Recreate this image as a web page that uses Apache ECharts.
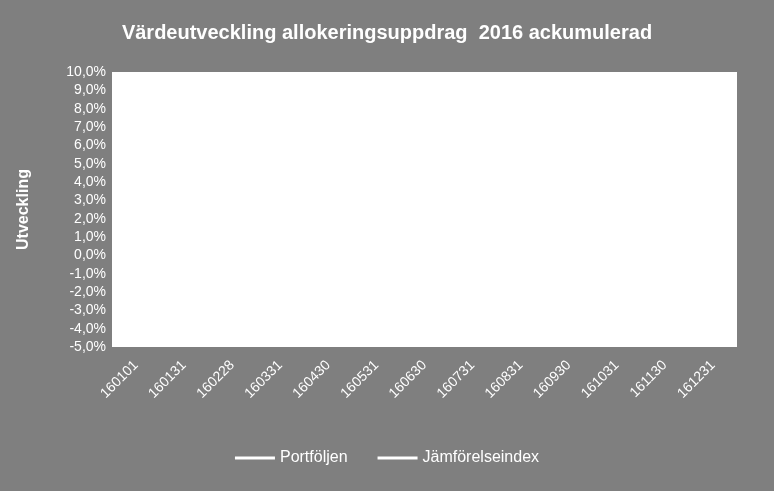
<!DOCTYPE html>
<html>
<head>
<meta charset="utf-8">
<script src="https://cdn.jsdelivr.net/npm/echarts@6/dist/echarts.min.js"></script>
<style>
html, body { margin: 0; padding: 0; background: #7f7f7f; }
#chart { width: 774px; height: 491px; }
</style>
</head>
<body>
<div id="chart"></div>
<script>
const datum = ['160101', '160131', '160228', '160331', '160430', '160531', '160630',
    '160731', '160831', '160930', '161031', '161130', '161231'];
const portfoljen = [0.0, 0.0, 0.0, 0.0, 0.0, 0.0, 0.0, 0.0, 0.0, 0.0, 0.0, 0.0, 0.0];
const jamforelseindex = [0.0, 0.0, 0.0, 0.0, 0.0, 0.0, 0.0, 0.0, 0.0, 0.0, 0.0, 0.0, 0.0];

const chart = echarts.init(document.getElementById('chart'));
const font = 'Liberation Sans';

const option = {
    backgroundColor: '#7f7f7f',
    textStyle: { fontFamily: font },
    title: {
        text: 'Värdeutveckling allokeringsuppdrag  2016 ackumulerad',
        left: 'center', top: 18,
        textStyle: { color: '#fff', fontSize: 20, fontWeight: 'bold', fontFamily: font }
    },
    legend: {
        bottom: 20, left: 'center', itemWidth: 40, itemGap: 30,
        icon: 'path://M0,0L40,0L40,3L0,3Z',
        textStyle: { color: '#fff', fontSize: 16 },
        data: ['Portföljen', 'Jämförelseindex']
    },
    grid: { left: 112, right: 37, top: 72, bottom: 144, show: true, backgroundColor: '#fff', borderWidth: 0 },
    xAxis: {
        type: 'category', data: datum, boundaryGap: true,
        axisLine: { show: false }, axisTick: { show: false },
        axisLabel: { color: '#fff', fontSize: 14, rotate: 45, margin: 16, interval: 0 }
    },
    yAxis: {
        type: 'value', min: -5, max: 10, interval: 1,
        name: 'Utveckling', nameLocation: 'middle', nameGap: 80, nameRotate: 90,
        nameTextStyle: { color: '#fff', fontSize: 16, fontWeight: 'bold' },
        axisLine: { show: false }, axisTick: { show: false }, splitLine: { show: false },
        axisLabel: { color: '#fff', fontSize: 14, margin: 6,
            formatter: v => v.toFixed(1).replace('.', ',') + '%' }
    },
    series: [
        { name: 'Portföljen', type: 'line', data: portfoljen, symbol: 'none',
          lineStyle: { color: '#fff', width: 3 }, itemStyle: { color: '#fff' } },
        { name: 'Jämförelseindex', type: 'line', data: jamforelseindex, symbol: 'none',
          lineStyle: { color: '#fff', width: 3 }, itemStyle: { color: '#fff' } }
    ]
};

chart.setOption(option);
</script>
</body>
</html>
